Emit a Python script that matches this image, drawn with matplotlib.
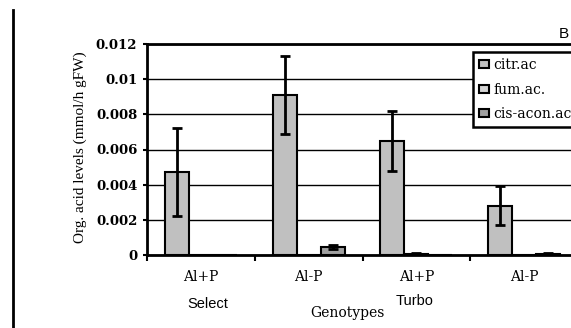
import matplotlib
matplotlib.use("Agg")
import matplotlib.pyplot as plt
from matplotlib.lines import Line2D
import numpy as np

# dati
categorie = ["Al+P", "Al-P", "Al+P", "Al-P"]
serie = ["citr.ac", "fum.ac.", "cis-acon.ac"]
citr = [0.0047, 0.0091, 0.0065, 0.0028]
citr_err = [0.0025, 0.0022, 0.0017, 0.0011]
fum = [0.0, 0.0, 0.00008, 0.0]
fum_err = [0.0, 0.0, 0.00002, 0.0]
cis = [0.0, 0.00045, 0.0, 0.00008]
cis_err = [0.0, 0.0001, 0.0, 0.00002]
genotipi = ["Select", "Turbo"]
yticks = [0, 0.002, 0.004, 0.006, 0.008, 0.01, 0.012]
ytick_labels = ["0", "0.002", "0.004", "0.006", "0.008", "0.01", "0.012"]

colori = ["#c0c0c0", "#d4d4d4", "#a0a0a0"]
W, H = 571, 328

fig = plt.figure(figsize=(W / 100, H / 100), dpi=100)
ax = fig.add_axes([147 / W, 1 - 255 / H, 431 / W, 211 / H])

x = np.arange(len(categorie))
w = 0.223
valori = [citr, fum, cis]
errori = [citr_err, fum_err, cis_err]
for i in range(3):
    ax.bar(x + (i - 1) * w, valori[i], w, color=colori[i], edgecolor="black",
           linewidth=1.5, label=serie[i], zorder=3,
           yerr=errori[i], error_kw=dict(ecolor="black", elinewidth=2,
                                          capsize=3.5, capthick=2, zorder=4))

ax.set_xlim(-0.5, 3.5)
ax.set_ylim(0, 0.012)
ax.set_yticks(yticks)
ax.set_yticklabels(ytick_labels, fontfamily="DejaVu Serif", fontweight="bold", fontsize=9.5)
ax.yaxis.grid(True, color="black", linewidth=1, zorder=0)
ax.tick_params(axis="y", length=3, width=1.5, pad=4)

ax.set_xticks(x - 0.5)
ax.set_xticklabels([])
ax.tick_params(axis="x", which="major", length=4, width=1.5)
ax.set_xticks(x, minor=True)
ax.set_xticklabels(categorie, minor=True, fontfamily="DejaVu Serif", fontsize=10)
ax.tick_params(axis="x", which="minor", length=0, pad=11)

for s in ["left", "bottom", "top"]:
    ax.spines[s].set_linewidth(2)
ax.spines["right"].set_visible(False)

fig.text(80 / W, 1 - 147 / H, "Org. acid levels (mmol/h gFW)", rotation=90,
         ha="center", va="center", fontfamily="Liberation Serif", fontsize=11)
fig.text(208 / W, 1 - 304 / H, genotipi[0], ha="center", va="center",
         fontfamily="Liberation Sans", fontsize=10.5)
fig.text(415 / W, 1 - 301 / H, genotipi[1], ha="center", va="center",
         fontfamily="Liberation Sans", fontsize=10.5)
fig.text(347 / W, 1 - 313 / H, "Genotypes", ha="center", va="center",
         fontfamily="DejaVu Serif", fontsize=10)
fig.text(564 / W, 1 - 34 / H, "B", ha="center", va="center",
         fontfamily="Liberation Sans", fontsize=11)

# linea verticale a sinistra
fig.add_artist(Line2D([13 / W, 13 / W], [0, 1 - 10 / H], color="black", linewidth=2,
                      transform=fig.transFigure))

leg = fig.legend(loc="upper left", bbox_to_anchor=(473 / W, 1 - 52 / H), borderaxespad=0,
                 prop=dict(family="DejaVu Serif", size=10), handlelength=0.7,
                 handleheight=0.5, handletextpad=0.3, labelspacing=0.75,
                 borderpad=0.45, fancybox=False, framealpha=1)
leg.get_frame().set_edgecolor("black")
leg.get_frame().set_linewidth(1.8)

fig.savefig("out.png", dpi=100)
